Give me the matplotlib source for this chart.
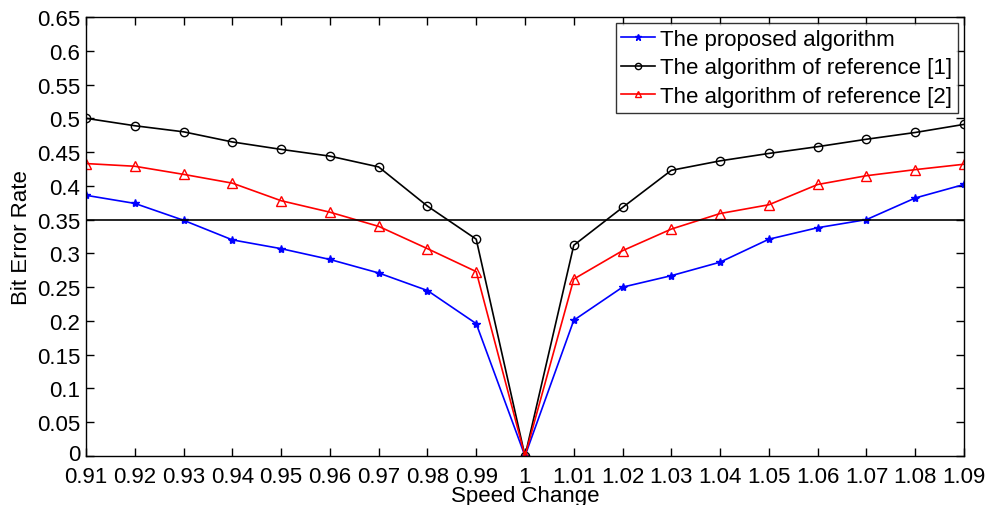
import matplotlib
matplotlib.use("Agg")
import matplotlib.pyplot as plt
import matplotlib.transforms as mtransforms
import numpy as np

speed = [0.91, 0.92, 0.93, 0.94, 0.95, 0.96, 0.97, 0.98, 0.99, 1.00,
         1.01, 1.02, 1.03, 1.04, 1.05, 1.06, 1.07, 1.08, 1.09]
proposed = [0.386, 0.374, 0.349, 0.320, 0.307, 0.291, 0.271, 0.245, 0.196, 0.0,
            0.201, 0.250, 0.267, 0.287, 0.321, 0.338, 0.350, 0.382, 0.402]
ref1 = [0.500, 0.489, 0.480, 0.465, 0.454, 0.444, 0.428, 0.370, 0.321, 0.0,
        0.312, 0.368, 0.423, 0.437, 0.448, 0.458, 0.469, 0.479, 0.491]
ref2 = [0.433, 0.429, 0.417, 0.404, 0.378, 0.361, 0.340, 0.307, 0.273, 0.0,
        0.262, 0.304, 0.336, 0.359, 0.372, 0.402, 0.415, 0.424, 0.432]
threshold = 0.35
labels = ["The proposed algorithm", "The algorithm of reference [1]",
          "The algorithm of reference [2]"]
xticks = speed
xticklabels = ["0.91", "0.92", "0.93", "0.94", "0.95", "0.96", "0.97", "0.98", "0.99", "1",
               "1.01", "1.02", "1.03", "1.04", "1.05", "1.06", "1.07", "1.08", "1.09"]
yticks = [0, 0.05, 0.1, 0.15, 0.2, 0.25, 0.3, 0.35, 0.4, 0.45, 0.5, 0.55, 0.6, 0.65]
yticklabels = ["0", "0.05", "0.1", "0.15", "0.2", "0.25", "0.3", "0.35", "0.4", "0.45",
               "0.5", "0.55", "0.6", "0.65"]

plt.rcParams['font.family'] = ['Liberation Sans', 'DejaVu Sans']
fs = 16

fig = plt.figure(figsize=(9.86, 5.06), dpi=100)
ax = fig.add_axes([86/986, 1 - 457/506, (964-86)/986, (457-18)/506])

ax.plot(speed, proposed, color='blue', marker='*', markersize=6, lw=1.2, label=labels[0])
ax.plot(speed, ref1, color='black', marker='o', markersize=6, markerfacecolor='none',
        markeredgewidth=1.0, lw=1.2, label=labels[1])
ax.plot(speed, ref2, color='red', marker='^', markersize=7, markerfacecolor='none',
        markeredgewidth=1.0, lw=1.2, label=labels[2])
ax.axhline(threshold, color='black', lw=1.2)

ax.set_xlim(0.91, 1.09)
ax.set_ylim(0, 0.65)
ax.set_xticks(xticks)
ax.set_xticklabels(xticklabels, fontsize=fs)
ax.set_yticks(yticks)
ax.set_yticklabels(yticklabels, fontsize=fs)
ax.tick_params(direction='in', top=True, right=True, length=6, width=1.0)
ax.tick_params(axis='x', pad=7)
ax.tick_params(axis='y', pad=4)
for s in ax.spines.values():
    s.set_linewidth(1.0)
ax.set_xlabel("Speed Change", fontsize=fs, labelpad=-1)
ax.set_ylabel("Bit Error Rate", fontsize=fs, labelpad=4)

# nudge the "0" y tick label up slightly so it clears the "0.91" x tick label
zero_lbl = ax.get_yticklabels()[0]
zero_lbl.set_transform(zero_lbl.get_transform() +
                       mtransforms.ScaledTranslation(0, 3/72, fig.dpi_scale_trans))

leg = ax.legend(loc='upper right', fontsize=fs, frameon=True, fancybox=False,
                borderaxespad=0.0, handlelength=1.5, handletextpad=0.25,
                borderpad=0.25, labelspacing=0.35)
leg.set_bbox_to_anchor((958/986, 1 - 24/506), transform=fig.transFigure)
leg.get_frame().set_edgecolor('black')
leg.get_frame().set_linewidth(1.0)
for h in leg.legend_handles:
    h.set_markersize(4.5)

fig.savefig("out.png", dpi=100)
